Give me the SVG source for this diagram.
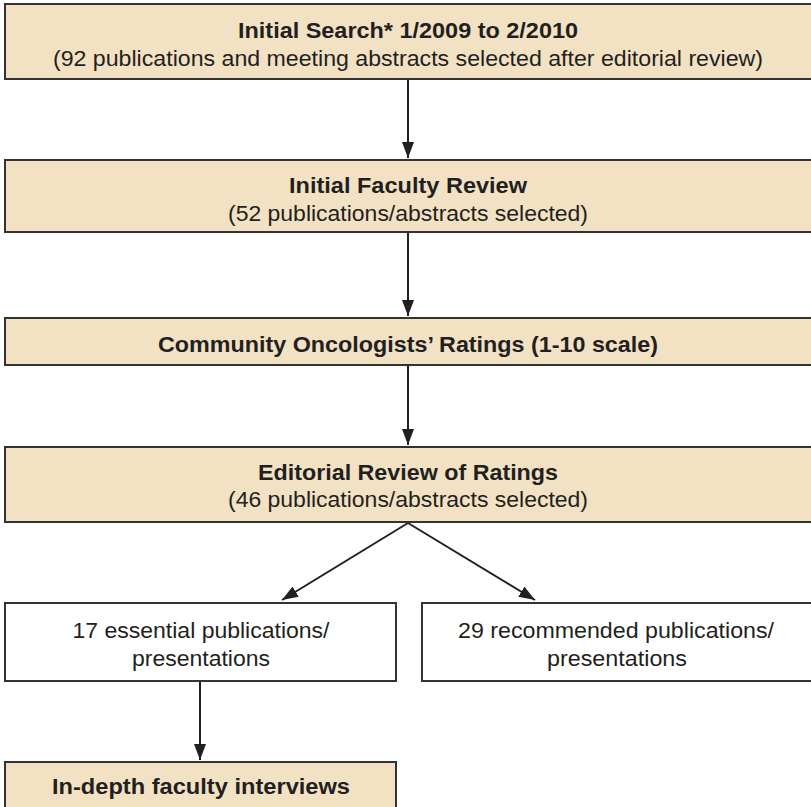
<svg xmlns="http://www.w3.org/2000/svg" width="811" height="807" viewBox="0 0 811 807">
<defs>
<marker id="ah" viewBox="0 0 16 12" refX="16" refY="6" markerWidth="16" markerHeight="12" markerUnits="userSpaceOnUse" orient="auto">
<path d="M0,0 L16,6 L0,12 Z" fill="#231f20"/>
</marker>
<style>
.tan{fill:#f2e2c3;stroke:#333333;stroke-width:2}
.wht{fill:#ffffff;stroke:#333333;stroke-width:2}
text{font-family:"Liberation Sans",Arial,sans-serif;font-size:22px;fill:#231f20;text-anchor:middle}
.b{font-weight:bold}
.c{fill:none;stroke:#231f20;stroke-width:2}
</style>
</defs>
<g id="connectors">
<line class="c" x1="408" y1="79" x2="408" y2="158" marker-end="url(#ah)"/>
<line class="c" x1="408" y1="232" x2="408" y2="316" marker-end="url(#ah)"/>
<line class="c" x1="408" y1="365" x2="408" y2="445" marker-end="url(#ah)"/>
<line class="c" x1="408" y1="523" x2="282" y2="600" marker-end="url(#ah)"/>
<line class="c" x1="408" y1="523" x2="535" y2="600" marker-end="url(#ah)"/>
<line class="c" x1="200" y1="681" x2="200" y2="760" marker-end="url(#ah)"/>
</g>
<g id="n1">
<rect class="tan" x="5" y="4" width="812" height="75"/>
<text class="b" x="408" y="38" textLength="340" lengthAdjust="spacingAndGlyphs">Initial Search* 1/2009 to 2/2010</text>
<text x="408" y="66" textLength="710" lengthAdjust="spacingAndGlyphs">(92 publications and meeting abstracts selected after editorial review)</text>
</g>
<g id="n2">
<rect class="tan" x="5" y="160" width="812" height="72"/>
<text class="b" x="408" y="193" textLength="238" lengthAdjust="spacingAndGlyphs">Initial Faculty Review</text>
<text x="408" y="221" textLength="360" lengthAdjust="spacingAndGlyphs">(52 publications/abstracts selected)</text>
</g>
<g id="n3">
<rect class="tan" x="5" y="318" width="812" height="47"/>
<text class="b" x="408" y="352" textLength="500" lengthAdjust="spacingAndGlyphs">Community Oncologists’ Ratings (1-10 scale)</text>
</g>
<g id="n4">
<rect class="tan" x="5" y="447" width="812" height="75"/>
<text class="b" x="408" y="480" textLength="300" lengthAdjust="spacingAndGlyphs">Editorial Review of Ratings</text>
<text x="408" y="507" textLength="360" lengthAdjust="spacingAndGlyphs">(46 publications/abstracts selected)</text>
</g>
<g id="n5">
<rect class="wht" x="5" y="603" width="391" height="78"/>
<text x="201" y="638" textLength="257" lengthAdjust="spacingAndGlyphs">17 essential publications/</text>
<text x="201" y="666" textLength="138" lengthAdjust="spacingAndGlyphs">presentations</text>
</g>
<g id="n6">
<rect class="wht" x="422" y="603" width="395" height="78"/>
<text x="616" y="638" textLength="316" lengthAdjust="spacingAndGlyphs">29 recommended publications/</text>
<text x="617" y="666" textLength="140" lengthAdjust="spacingAndGlyphs">presentations</text>
</g>
<g id="n7">
<rect class="tan" x="5" y="762" width="391" height="60"/>
<text class="b" x="201" y="794" textLength="298" lengthAdjust="spacingAndGlyphs">In-depth faculty interviews</text>
</g>
</svg>
